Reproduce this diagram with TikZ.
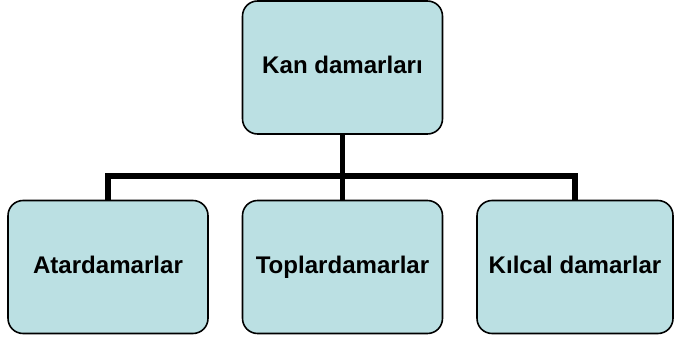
\documentclass[tikz,border=0pt]{standalone}
\usepackage{fontspec}
\setmainfont{Liberation Sans}
\usepackage{tikz}
\usetikzlibrary{positioning}
\definecolor{boxfill}{RGB}{187,224,227}

\begin{document}
\begin{tikzpicture}[x=0.02cm,y=-0.02cm,
    box/.style={draw, line width=0.9pt, fill=boxfill, rounded corners=0.3cm,
        minimum width=4cm, minimum height=2.66cm, inner sep=0pt,
        text height=10pt, text depth=3pt,
        font=\fontsize{13.7}{16}\selectfont\bfseries},
    link/.style={line width=3.4pt}]
        \useasboundingbox (0,0) rectangle (675,341);

        % Boxes
        \node[box] (top) at (342.5,67.5) {Kan damarları};
        \node[box] (left) at (108,267) {Atardamarlar};
        \node[box] (mid) at (342.5,267) {Toplardamarlar};
        \node[box, minimum width=3.92cm] (right) at (575,267) {Kılcal damarlar};

        % Links
        \coordinate (bus) at (342.5,176);
        \draw[link] (top.south) -- (mid.north);
        \draw[link] (left.north) |- (bus) -| (right.north);
    \end{tikzpicture}
\end{document}
